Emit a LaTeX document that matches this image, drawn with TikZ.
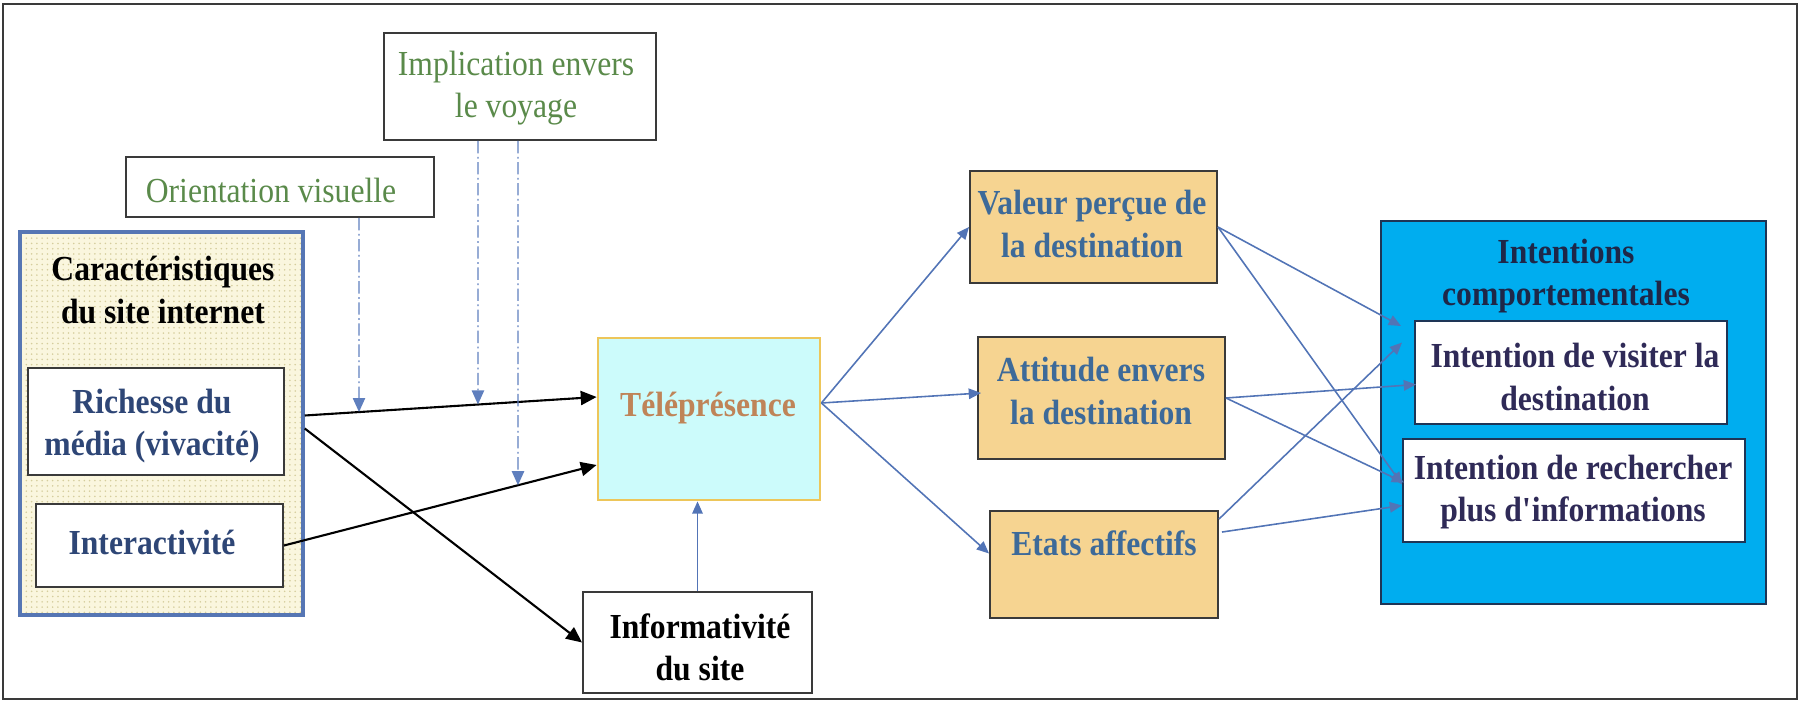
\documentclass[tikz,border=0pt]{standalone}
\usepackage{fontspec}
\setmainfont{Liberation Serif}[FakeStretch=0.9]
\usetikzlibrary{fit,calc,patterns,arrows.meta}
\definecolor{frameC}{HTML}{3A3A3A}
\definecolor{greenT}{HTML}{5A8A4A}
\definecolor{navyT}{HTML}{2E4676}
\definecolor{caraFill}{HTML}{FAF6DE}
\definecolor{caraDot}{HTML}{D5CD9C}
\definecolor{caraBorder}{HTML}{5676B4}
\definecolor{teleFill}{HTML}{CCFBFB}
\definecolor{teleBorder}{HTML}{EDC65A}
\definecolor{teleT}{HTML}{BF8458}
\definecolor{midFill}{HTML}{F6D491}
\definecolor{midT}{HTML}{3D6A99}
\definecolor{intFill}{HTML}{00ADEF}
\definecolor{intBorder}{HTML}{1E3556}
\definecolor{intT}{HTML}{1E2748}
\definecolor{subT}{HTML}{2F2A57}
\definecolor{arrB}{HTML}{5274B6}
\definecolor{dashB}{HTML}{5F7FBE}
\tikzset{
  box/.style={draw=frameC, line width=1.1pt, inner sep=0pt, fill=white},
  txt/.style={font=\fontsize{20}{24}\selectfont, align=center, inner sep=0pt},
  btxt/.style={txt, font=\fontsize{20}{24}\selectfont\bfseries},
  blackarrow/.style={line width=1.2pt, black, -{Triangle[length=9pt,width=8pt]}},
  bluearrow/.style={line width=0.9pt, arrB, -{Triangle[length=7pt,width=6pt]}},
  dashline/.style={line width=0.8pt, dashB, dash pattern=on 7pt off 2pt on 1pt off 2pt, -{Triangle[length=8pt,width=7pt]}},
}
\begin{document}
\begin{tikzpicture}[x=0.02cm, y=-0.02cm]
\useasboundingbox (0,0) rectangle (1805,702);
\node[draw=frameC, line width=1.2pt, inner sep=0pt, fit={(3,4) (1797,699)}] (frame) {};

% left group
\node[draw=caraBorder, line width=2pt, inner sep=0pt,
      preaction={fill=caraFill}, pattern=dots, pattern color=caraDot,
      fit={(20,232) (303,615)}] (car) {};
\node[btxt, text=black] (carT) at (163,290) {Caractéristiques\\du site internet};
\node[box, fit={(28,368) (284,475)}] (rich) {};
\node[btxt, text=navyT] (richT) at (152,426) {Richesse du\\média (vivacité)};
\node[box, fit={(36,504) (283,587)}] (inter) {};
\node[btxt, text=navyT] (interT) at (152,542) {Interactivité};

% moderators
\node[box, fit={(126,157) (434,217)}] (orient) {};
\node[txt, text=greenT] (orientT) at (271,190) {Orientation visuelle};
\node[box, fit={(384,33) (656,140)}] (impl) {};
\node[txt, text=greenT] (implT) at (516,88) {Implication envers\\le voyage};

% telepresence & informativity
\node[draw=teleBorder, line width=1.6pt, fill=teleFill, inner sep=0pt, fit={(598,338) (820,500)}] (tele) {};
\node[btxt, text=teleT] (teleT) at (708,408) {Téléprésence};
\node[box, fit={(583,592) (812,693)}] (info) {};
\node[btxt, text=black] (infoT) at (700,647) {Informativité\\du site};

% middle boxes
\node[box, fill=midFill, fit={(970,171) (1217,283)}] (val) {};
\node[btxt, text=midT] (valT) at (1092,224) {Valeur perçue de\\la destination};
\node[box, fill=midFill, fit={(978,337) (1225,459)}] (att) {};
\node[btxt, text=midT] (attT) at (1101,391) {Attitude envers\\la destination};
\node[box, fill=midFill, fit={(990,511) (1218,618)}] (etats) {};
\node[btxt, text=midT] (etatsT) at (1104,543) {Etats affectifs};

% intentions
\node[draw=intBorder, line width=1.2pt, fill=intFill, inner sep=0pt, fit={(1381,221) (1766,604)}] (int) {};
\node[btxt, text=intT] (intT) at (1566,276) {Intentions\\comportementales};
\node[box, draw=intBorder, fit={(1415,321) (1727,424)}] (visit) {};
\node[btxt, text=subT] (visitT) at (1575,377) {Intention de visiter la\\destination};
\node[box, draw=intBorder, fit={(1403,439) (1745,542)}] (rech) {};
\node[btxt, text=subT] (rechT) at (1573,492) {Intention de rechercher\\plus d\textquotesingle informations};

% black arrows
\coordinate (r1) at ($(car.east)+(0,-8)$);
\coordinate (r2) at ($(car.east)+(0,5)$);
\coordinate (t1) at ($(tele.west)+(0,-22)$);
\coordinate (t2) at ($(tele.west)+(0,46)$);
\draw[blackarrow] (r1) -- (t1);
\draw[blackarrow] (inter.east) -- (t2);
\draw[blackarrow] (r2) -- (info.west);

% dashed moderator lines
\coordinate (o1) at (orient.south -| 359,0);
\coordinate (i1) at (impl.south -| 478,0);
\coordinate (i2) at (impl.south -| 518,0);
\draw[dashline] (o1) -- (intersection of o1--{359,700} and r1--t1);
\draw[dashline] (i1) -- (intersection of i1--{478,700} and r1--t1);
\draw[dashline] (i2) -- (intersection of i2--{518,700} and inter.east--t2);

% blue arrows
\draw[bluearrow] (info.north) -- (info.north |- tele.south);
\coordinate (te) at ($(tele.east)+(0,-16)$);
\draw[bluearrow] (te) -- (val.west);
\draw[bluearrow] (te) -- ($(att.west)+(4,-5)$);
\draw[bluearrow] (te) -- ($(etats.west)+(0,-11)$);

\draw[bluearrow] (val.east) -- ($(visit.north west)+(-13,6)$);
\draw[bluearrow] (val.east) -- ($(rech.west)+(0,-6)$);
\draw[bluearrow] (att.east) -- ($(visit.west)+(2,12)$);
\draw[bluearrow] (att.east) -- ($(rech.west)+(2,-8)$);
\draw[bluearrow] ($(etats.north east)+(0,9)$) -- ($(visit.west)+(-12,-30)$);
\draw[bluearrow] ($(etats.north east)+(3,22)$) -- ($(rech.west)+(0,15)$);
\end{tikzpicture}
\end{document}
